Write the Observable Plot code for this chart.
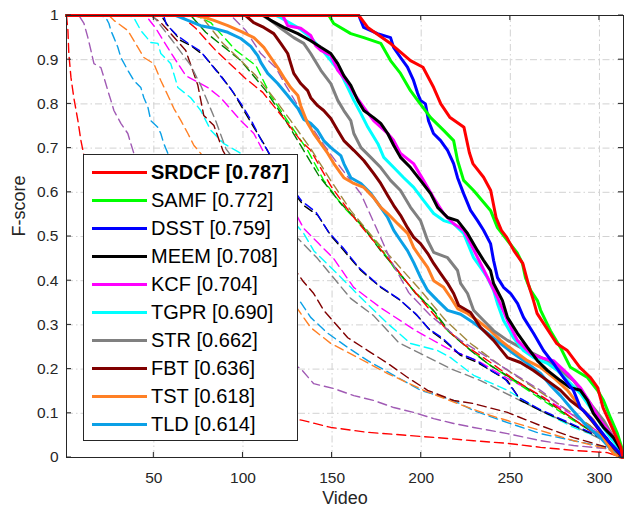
<!DOCTYPE html>
<html><head><meta charset="utf-8">
<script src="https://cdn.jsdelivr.net/npm/d3@7"></script>
<script src="https://cdn.jsdelivr.net/npm/@observablehq/plot@0.6"></script>
<style>
body{margin:0;background:#fff;}
#wrap{position:relative;width:624px;height:508px;font-family:"Liberation Sans",Arial,Helvetica,sans-serif;}
#legend{position:absolute;left:83px;top:154px;width:215px;height:287px;box-sizing:border-box;border:1px solid #262626;background:#fff;}
.row{position:absolute;left:0;height:28px;display:flex;align-items:center;}
.swatch{width:55px;height:3px;margin-left:8px;margin-right:4px;}
.lbl{font-size:20px;color:#000;line-height:28px;white-space:nowrap;}
</style></head>
<body><div id="wrap"><div id="chart"></div><div id="legend"></div></div>
<script>
// ---- tick labels ----
const xTicks = [50, 100, 150, 200, 250, 300];
const yTicks = [0, 0.1, 0.2, 0.3, 0.4, 0.5, 0.6, 0.7, 0.8, 0.9, 1];
const yTickLabels = ["0", "0.1", "0.2", "0.3", "0.4", "0.5", "0.6", "0.7", "0.8", "0.9", "1"];

// ---- legend (top 10 trackers) ----
const trackers = ["SRDCF", "SAMF", "DSST", "MEEM", "KCF", "TGPR", "STR", "FBT", "TST", "TLD"];
const scores = ["0.787", "0.772", "0.759", "0.708", "0.704", "0.690", "0.662", "0.636", "0.618", "0.614"];
const colors = ["#ff0000", "#00ff00", "#0000ff", "#000000", "#ff00ff", "#00ffff", "#808080", "#800000", "#ff8025", "#0ba0e6"];

// ---- solid curves: [video, F-score] ----
const SRDCF = [[1,1],[165,1],[170,0.973],[183,0.936],[194,0.898],[201,0.883],[207,0.837],[211,0.8],[216,0.77],[224,0.747],[227,0.69],[229,0.665],[235,0.634],[239,0.604],[242,0.543],[245,0.514],[248,0.498],[252,0.468],[257,0.439],[260,0.394],[263,0.355],[265,0.326],[276,0.258],[282,0.242],[289,0.204],[295,0.181],[299,0.158],[302,0.113],[306,0.077],[312,0.023],[313,0]];
const SAMF = [[1,1],[148.2,1],[150.9,0.982],[160.5,0.959],[167.8,0.95],[177.3,0.937],[182.8,0.898],[188.4,0.869],[194,0.83],[198,0.808],[205.3,0.769],[212.6,0.74],[218.2,0.717],[220.4,0.672],[223.8,0.627],[229.4,0.604],[238.9,0.559],[242.8,0.52],[248.4,0.491],[254,0.462],[256.8,0.439],[258.5,0.407],[261.4,0.378],[265.2,0.355],[267,0.333],[272.5,0.287],[278.1,0.249],[283.7,0.204],[293.3,0.181],[298.9,0.152],[302.3,0.129],[306.2,0.09],[310.1,0.054],[313,0.016],[313.3,0]];
const DSST = [[1,1],[165,1],[167.7,0.973],[175.5,0.959],[182.8,0.95],[184.5,0.928],[188.4,0.905],[192.3,0.883],[195.7,0.853],[198,0.824],[199.6,0.808],[202.4,0.8],[204.1,0.762],[206.9,0.733],[210.9,0.717],[214.8,0.695],[218.2,0.665],[220.4,0.633],[223.8,0.597],[227.7,0.559],[231.6,0.536],[235,0.514],[238.9,0.484],[240.6,0.446],[242.8,0.407],[246.2,0.385],[250.2,0.371],[254.1,0.348],[257.4,0.317],[263,0.281],[268.6,0.242],[274.2,0.213],[279.8,0.181],[285.4,0.152],[289.3,0.113],[294.9,0.09],[300.5,0.061],[306.2,0.032],[311.7,0.009],[313,0]];
const MEEM = [[1,1],[111.7,1],[115.6,0.989],[122.9,0.973],[130.8,0.959],[138,0.943],[143.7,0.928],[149.3,0.914],[153.2,0.891],[156.6,0.864],[160.5,0.842],[164.4,0.808],[167.8,0.785],[173.3,0.769],[177.3,0.756],[181.2,0.733],[184.6,0.706],[188.4,0.679],[194,0.656],[199.6,0.627],[205.3,0.597],[209.2,0.566],[214.8,0.543],[220.4,0.536],[226,0.507],[231.6,0.468],[235,0.446],[238.9,0.423],[240.6,0.394],[245.6,0.355],[248.4,0.317],[254,0.281],[259.6,0.249],[265.2,0.219],[270.8,0.197],[278.1,0.174],[283.7,0.158],[289.3,0.152],[293.3,0.129],[296.6,0.1],[302.3,0.068],[307.9,0.045],[313,0.011],[313.3,0]];
const KCF = [[1,1],[122.3,1],[125.1,0.977],[132.4,0.971],[138,0.955],[140.8,0.932],[143.7,0.921],[149.3,0.91],[153.2,0.876],[158.8,0.848],[162.2,0.824],[167.8,0.792],[173.3,0.762],[181.2,0.733],[184.6,0.717],[188.4,0.688],[195.7,0.665],[201.3,0.627],[206.9,0.588],[212.6,0.552],[218.2,0.529],[223.8,0.514],[227.7,0.484],[233.3,0.439],[238.9,0.394],[242.8,0.362],[248.4,0.31],[254,0.265],[261.4,0.235],[267,0.226],[274.2,0.219],[282.1,0.19],[289.3,0.158],[294.9,0.122],[300.5,0.084],[306.2,0.054],[311.7,0.023],[313,0]];
const TGPR = [[1,1],[118.4,1],[121.2,0.995],[130.8,0.973],[138,0.95],[143.7,0.925],[149.3,0.898],[154.9,0.869],[158.8,0.837],[162.2,0.808],[166.2,0.778],[170.1,0.747],[175.7,0.71],[179,0.679],[184.6,0.656],[190.2,0.633],[195.8,0.611],[201.4,0.581],[207,0.552],[212.6,0.536],[218.2,0.529],[223.8,0.507],[229.4,0.452],[233.3,0.43],[237.2,0.407],[240.6,0.378],[242.8,0.348],[246.2,0.31],[251.8,0.271],[257.4,0.242],[263,0.226],[270.8,0.213],[276.4,0.197],[282.1,0.174],[289.3,0.145],[294.9,0.113],[300.5,0.077],[306.2,0.045],[311.7,0.016],[313,0]];
const STR = [[1,1],[111,1],[115.6,0.989],[121.2,0.971],[128.5,0.95],[134.1,0.937],[138,0.914],[143.7,0.876],[149.3,0.846],[153.2,0.808],[156.6,0.785],[160.5,0.762],[162.2,0.733],[166.2,0.701],[171.7,0.679],[177.3,0.656],[182.8,0.627],[188.4,0.604],[194,0.566],[199.6,0.536],[203.6,0.491],[207,0.464],[214.8,0.452],[220.4,0.423],[222.1,0.394],[226,0.371],[229.4,0.333],[235,0.31],[240.6,0.287],[248.4,0.265],[255.7,0.249],[263,0.235],[270.8,0.219],[278.1,0.197],[285.4,0.174],[291,0.145],[296.6,0.113],[302.3,0.084],[307.9,0.045],[311.8,0.016],[313,0]];
const FBT = [[1,1],[101.5,1],[106,0.984],[111.7,0.973],[117.3,0.959],[121.2,0.937],[125.1,0.914],[126.8,0.891],[128.5,0.869],[132.4,0.846],[136.3,0.83],[138,0.814],[141.9,0.796],[145.3,0.785],[149.3,0.767],[153.2,0.74],[156.6,0.717],[162.2,0.695],[167.8,0.672],[173.3,0.643],[177.3,0.62],[181.2,0.593],[184.6,0.57],[188.4,0.548],[192.3,0.52],[195.8,0.498],[199.6,0.484],[203.6,0.462],[207,0.439],[210.9,0.416],[214.8,0.394],[218.2,0.371],[221,0.344],[227.7,0.328],[233.3,0.294],[240.6,0.265],[248.4,0.226],[255.7,0.215],[263,0.197],[270.8,0.174],[278.1,0.152],[283.7,0.129],[291,0.106],[296.6,0.079],[302.3,0.05],[307.9,0.023],[311.8,0.005],[313,0]];
const TST = [[1,1],[73.6,1],[79.2,0.995],[83.7,0.989],[91.5,0.977],[98.8,0.964],[106.1,0.95],[111.7,0.928],[115.6,0.905],[119.5,0.882],[122.9,0.86],[126.8,0.837],[130.8,0.819],[132.4,0.796],[134.1,0.778],[136.3,0.756],[139.7,0.733],[143.7,0.71],[147.6,0.688],[151,0.665],[156.6,0.633],[162.2,0.62],[167.8,0.611],[173.3,0.588],[177.3,0.566],[181.2,0.552],[186.8,0.529],[192.4,0.507],[195.8,0.475],[199.7,0.452],[203.6,0.43],[207,0.4],[212.6,0.385],[216.5,0.362],[220.4,0.337],[226,0.326],[231.6,0.31],[238.9,0.287],[244.5,0.265],[251.8,0.242],[259.6,0.219],[267,0.204],[274.2,0.181],[282.1,0.152],[289.4,0.113],[296.6,0.084],[302.3,0.045],[307.9,0.009],[311.8,0]];
const TLD = [[1,1],[62.4,1],[69.1,0.989],[76.3,0.977],[83.7,0.971],[91.5,0.962],[98.8,0.948],[104.4,0.93],[108.3,0.909],[110,0.894],[113.9,0.869],[119.5,0.846],[125.1,0.819],[130.8,0.79],[134.1,0.765],[138,0.756],[141.9,0.74],[145.3,0.717],[149.3,0.701],[154.9,0.683],[156.6,0.665],[160.5,0.633],[166.2,0.62],[171.8,0.597],[177.3,0.566],[181.2,0.543],[184.6,0.514],[188.4,0.491],[192.3,0.468],[195.8,0.441],[199.7,0.407],[203.6,0.378],[209.2,0.355],[214.8,0.333],[222.1,0.324],[229.4,0.305],[237.2,0.281],[244.5,0.258],[251.8,0.235],[259.6,0.213],[267,0.19],[272.6,0.163],[278.1,0.14],[285.4,0.105],[292,0.075],[300.5,0.045],[307,0.016],[313,0]];

// ---- dashed curves (other trackers, unlabeled) ----
const dRed1 = [[1,1],[1.8,0.966],[2.3,0.914],[3.5,0.86],[5.1,0.814],[7.4,0.762],[9.1,0.717],[10.8,0.683],[20.3,0.47],[48.3,0.24],[76.3,0.15],[104.4,0.106],[133.5,0.084],[149.3,0.068],[169.9,0.057],[192.4,0.05],[214.8,0.043],[229.4,0.038],[248.4,0.032],[267,0.023],[285.5,0.016],[304.4,0.011],[313,0]];
const dPurple1 = [[1,1],[8,1],[10.8,0.982],[13,0.95],[14.7,0.921],[16.4,0.891],[20.3,0.882],[22,0.86],[24.2,0.83],[25.9,0.808],[27.6,0.785],[31.5,0.756],[35.4,0.733],[37.1,0.71],[38.8,0.688],[53.9,0.52],[76.3,0.38],[104.4,0.265],[132.4,0.201],[139.7,0.167],[150.9,0.156],[162.2,0.14],[173.4,0.129],[184.6,0.113],[195.8,0.102],[207,0.088],[218.2,0.077],[229.4,0.068],[248.4,0.054],[267,0.038],[285.5,0.027],[304.4,0.02],[313,0]];
const dLightBlue = [[1,1],[20.3,1],[23.1,0.995],[24.8,0.982],[25.9,0.966],[27.6,0.95],[29.8,0.928],[31.5,0.905],[35.4,0.876],[38.8,0.853],[42.7,0.837],[44.4,0.814],[46.7,0.792],[48.3,0.762],[52.3,0.747],[53.9,0.733],[55.6,0.71],[57.9,0.688],[76.3,0.57],[104.4,0.45],[132.4,0.351],[138,0.317],[147.6,0.281],[158.8,0.249],[170,0.219],[182.9,0.19],[199.7,0.152],[218.2,0.129],[229.4,0.106],[248.4,0.079],[267,0.054],[285.5,0.038],[304.4,0.023],[313,0]];
const dOrange = [[1,1],[24.8,1],[27.6,0.989],[35.4,0.966],[38.8,0.943],[44.4,0.905],[50,0.891],[53.9,0.853],[57.9,0.819],[61.2,0.79],[65.2,0.762],[69.1,0.733],[72.5,0.706],[76.3,0.688],[104.4,0.49],[132.4,0.326],[138,0.294],[149.3,0.258],[164.4,0.226],[181.2,0.19],[201.4,0.152],[220.4,0.122],[238.9,0.095],[267,0.061],[285.5,0.038],[304.4,0.02],[313,0]];
const dCyan = [[1,1],[36,1],[38.8,0.995],[42.7,0.966],[48.3,0.939],[52.3,0.937],[53.9,0.914],[59.5,0.891],[63.5,0.837],[70.7,0.814],[76.3,0.785],[82,0.74],[89.3,0.71],[98.8,0.688],[115.6,0.593],[134.1,0.507],[139.7,0.468],[149.3,0.43],[160.5,0.385],[167.8,0.355],[181.2,0.303],[194.1,0.258],[209.2,0.242],[216.5,0.226],[229.4,0.186],[248.4,0.152],[267,0.106],[285.5,0.068],[304.4,0.038],[313,0]];
const dDarkRed = [[1,1],[48.3,1],[53.9,0.984],[59.5,0.959],[67.9,0.921],[74.7,0.842],[78,0.774],[83.7,0.751],[88.7,0.695],[110,0.536],[133.5,0.4],[139.7,0.371],[145.3,0.333],[158.8,0.271],[170,0.242],[181.2,0.213],[192.4,0.181],[203.6,0.152],[218.2,0.129],[229.4,0.122],[248.4,0.102],[267,0.072],[285.5,0.045],[304.4,0.023],[313,0]];
const dMagenta = [[1,1],[45.5,1],[51.1,0.971],[59.5,0.916],[67.9,0.864],[80.3,0.837],[87.5,0.814],[98.8,0.762],[106.1,0.733],[111.1,0.695],[121.2,0.615],[134.1,0.518],[142.5,0.484],[150.9,0.45],[162.1,0.385],[177.2,0.339],[196.9,0.287],[214.8,0.247],[233.3,0.215],[248.4,0.179],[266.9,0.14],[285.4,0.095],[304.4,0.045],[312.8,0]];
const dGray = [[1,1],[49.4,1],[59.5,0.948],[70.7,0.887],[76.3,0.842],[84.7,0.762],[90.4,0.699],[115.6,0.559],[141.9,0.45],[160.4,0.36],[173.3,0.321],[187.4,0.26],[199.7,0.235],[216.5,0.201],[233.3,0.174],[250.1,0.14],[266.9,0.106],[285.4,0.072],[304.4,0.034],[312.8,0]];
const dBlack = [[1,1],[54,1],[57.9,0.977],[65.2,0.943],[70.7,0.932],[78,0.91],[87.6,0.864],[94.9,0.824],[100.5,0.785],[106.1,0.747],[111.7,0.71],[121.2,0.638],[134.1,0.57],[142,0.548],[149.3,0.502],[156.6,0.468],[166.2,0.423],[177.3,0.385],[188.5,0.355],[197.8,0.321],[205.2,0.287],[212.6,0.265],[222.1,0.231],[231.6,0.215],[238.9,0.197],[248.4,0.174],[255.7,0.129],[267,0.106],[285.5,0.072],[300.6,0.045],[313,0]];
const dBlue = [[1,1],[55.5,1],[57,0.98],[63,0.955],[70,0.935],[76,0.92],[85,0.875],[93,0.835],[99,0.8],[105,0.76],[110,0.72],[121,0.645],[133,0.58],[141,0.555],[148,0.51],[156,0.475],[165,0.43],[176,0.39],[187,0.36],[197,0.325],[204,0.292],[212,0.27],[221,0.236],[231,0.22],[238,0.2],[247,0.178],[255,0.135],[266,0.11],[285,0.075],[300,0.047],[312.8,0]];
const dGreen = [[1,1],[73.5,1],[81.9,0.984],[96,0.921],[107.2,0.887],[115.6,0.819],[126.8,0.751],[136.3,0.695],[145.3,0.627],[156.5,0.566],[167.8,0.52],[177.2,0.475],[184.6,0.43],[195.8,0.378],[205.3,0.339],[214.8,0.287],[226,0.249],[237.2,0.213],[251.8,0.174],[266.9,0.133],[285.4,0.084],[304.4,0.038],[312.8,0]];
const dDarkGreen = [[1,1],[70.7,1],[79.1,0.962],[98.8,0.898],[104.4,0.871],[112.8,0.83],[124,0.762],[132.4,0.706],[142.5,0.638],[154.8,0.575],[166.1,0.529],[177.2,0.468],[186.8,0.423],[196.9,0.371],[206.9,0.333],[216.5,0.281],[227.7,0.242],[238.9,0.208],[255.7,0.167],[269.7,0.129],[286.5,0.084],[304.4,0.034],[312.8,0]];
const dRed2 = [[1,1],[65.1,1],[73.5,0.971],[84.7,0.921],[101.6,0.857],[111.1,0.826],[122.9,0.767],[132.4,0.717],[138,0.695],[149.2,0.615],[160.4,0.552],[171.6,0.498],[181.2,0.452],[191.3,0.4],[201.3,0.351],[213.7,0.292],[224.9,0.253],[238.9,0.215],[252.9,0.174],[269.7,0.133],[286.5,0.084],[304.4,0.034],[312.8,0]];
const dOlive = [[1,1],[76.3,1],[88.7,0.937],[97.1,0.905],[107.2,0.864],[118.4,0.808],[126.8,0.762],[138,0.699],[149.2,0.627],[160.4,0.559],[174.4,0.491],[185.7,0.441],[199.7,0.378],[213.7,0.31],[227.7,0.258],[244.5,0.208],[261.3,0.163],[278.1,0.118],[294.9,0.072],[308.9,0.023],[312.8,0]];
const dPurple2 = [[1,1],[93.2,1],[101.6,0.966],[110,0.914],[118.4,0.882],[124,0.842],[132.4,0.785],[143.6,0.717],[153.1,0.665],[166.1,0.597],[177.2,0.498],[182.9,0.446],[193,0.373],[205.3,0.321],[222.1,0.265],[244.5,0.208],[266.9,0.152],[285.4,0.095],[304.4,0.038],[312.8,0]];

const solidSeries = [SRDCF, SAMF, DSST, MEEM, KCF, TGPR, STR, FBT, TST, TLD];
const dashedSeries = [dRed1, dPurple1, dLightBlue, dOrange, dCyan, dDarkRed, dMagenta, dGray, dBlack, dBlue, dGreen, dDarkGreen, dRed2, dOlive, dPurple2];
const dashedColors = ["#ff0000", "#a05ab4", "#0ba0e6", "#ff8025", "#00ffff", "#800000", "#ff00ff", "#808080", "#000000", "#0000ff", "#00ff00", "#008000", "#ff0000", "#a0873c", "#a05ab4"];

const rows = arr => arr.map(([x, y]) => ({x, y}));
const yLabelOf = new Map(yTicks.map((t, i) => [t, yTickLabels[i]]));

const marks = [
  Plot.ruleX(xTicks, {stroke: "#d2d2d2", strokeWidth: 1, strokeDasharray: "7,3,1.5,3"}),
  Plot.ruleY(yTicks, {stroke: "#d2d2d2", strokeWidth: 1, strokeDasharray: "7,3,1.5,3"})
];
dashedSeries.forEach((s, i) => marks.push(Plot.line(rows(s), {x: "x", y: "y", stroke: dashedColors[i], strokeWidth: 1.4, strokeDasharray: "9,5"})));
for (let i = solidSeries.length - 1; i >= 0; i--) {
  marks.push(Plot.line(rows(solidSeries[i]), {x: "x", y: "y", stroke: colors[i], strokeWidth: 3, strokeLinejoin: "round"}));
}
marks.push(Plot.frame({stroke: "#262626"}));
marks.push(Plot.text(["Video"], {text: d => d, frameAnchor: "bottom", dy: 46, fontSize: 18, fill: "#262626"}));
marks.push(Plot.text(["F-score"], {text: d => d, frameAnchor: "left", dx: -47, rotate: -90, fontSize: 18, fill: "#262626"}));

const plot = Plot.plot({
  width: 624, height: 508,
  marginLeft: 66, marginRight: 1, marginTop: 15, marginBottom: 51,
  style: {fontFamily: "'Liberation Sans', Arial, Helvetica, sans-serif", fontSize: "15.5px", color: "#262626", background: "white"},
  x: {domain: [1, 313.5], ticks: xTicks, tickSize: 0, tickPadding: 14, label: null},
  y: {domain: [0, 1], ticks: yTicks, tickSize: 0, tickPadding: 8, tickFormat: d => yLabelOf.get(d), label: null},
  marks
});
document.getElementById("chart").appendChild(plot);

// inward tick marks on all four sides (MATLAB box style)
const sx = plot.scale("x"), sy = plot.scale("y");
const [xl, xr] = sx.range, [yb, yt] = sy.range;
const g = d3.select(plot).append("g").attr("stroke", "#262626").attr("stroke-width", 1);
xTicks.forEach(t => {
  const x = sx.apply(t);
  g.append("line").attr("x1", x).attr("x2", x).attr("y1", yb).attr("y2", yb - 5);
  g.append("line").attr("x1", x).attr("x2", x).attr("y1", yt).attr("y2", yt + 5);
});
yTicks.forEach(t => {
  const y = sy.apply(t);
  g.append("line").attr("x1", xl).attr("x2", xl + 5).attr("y1", y).attr("y2", y);
  g.append("line").attr("x1", xr).attr("x2", xr - 5).attr("y1", y).attr("y2", y);
});

// legend
const legend = d3.select("#legend");
trackers.forEach((name, i) => {
  const row = legend.append("div").attr("class", "row").style("top", (3 + i * 28) + "px");
  row.append("div").attr("class", "swatch").style("background", colors[i]);
  row.append("span").attr("class", "lbl").style("font-weight", i === 0 ? "bold" : "normal").text(`${name} [${scores[i]}]`);
});
</script></body></html>
